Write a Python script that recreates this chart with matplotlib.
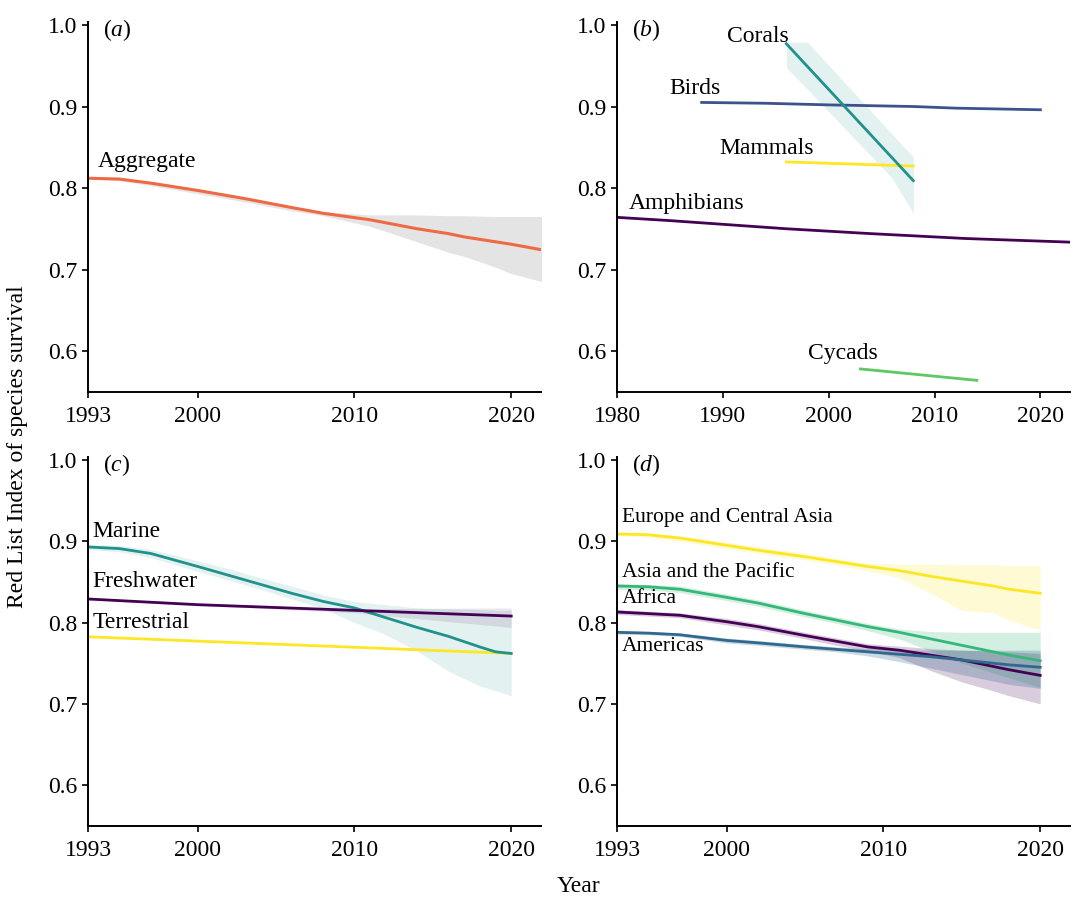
import matplotlib
matplotlib.use('Agg')
import matplotlib.pyplot as plt

plt.rcParams['font.family'] = ['Liberation Serif', 'DejaVu Serif']
plt.rcParams['mathtext.fontset'] = 'custom'
plt.rcParams['mathtext.rm'] = 'Liberation Serif'
plt.rcParams['mathtext.it'] = 'Liberation Serif:italic'

# (a) aggregate
aggYears = [1993, 1995, 1997, 2000, 2003, 2006, 2008, 2011, 2014, 2016, 2017, 2019, 2020, 2022]
aggregate = [.812, .811, .806, .797, .787, .776, .769, .761, .750, .744, .740, .734, .731, .724]
aggUpper = [.813, .812, .808, .799, .789, .778, .771, .767, .767, .766, .766, .765, .765, .765]
aggLower = [.811, .809, .803, .793, .783, .772, .766, .753, .734, .721, .716, .703, .695, .685]

# (b) taxonomic groups
coralYears = [1996, 2008]
corals = [.977, .809]
coralBandYears = [1996, 1998, 2006, 2008]
coralUpper = [.979, .979, .866, .838]
coralLower = [.948, .921, .812, .769]
birdYears = [1988, 1994, 2000, 2004, 2008, 2012, 2016, 2020]
birds = [.905, .904, .902, .901, .900, .898, .897, .896]
mammalYears = [1996, 2008]
mammals = [.832, .827]
amphibianYears = [1980, 1985, 1996, 2004, 2013, 2023]
amphibians = [.764, .760, .750, .744, .738, .7335]
cycadYears = [2003, 2014]
cycads = [.578, .564]

# (c) realms
marineYears = [1993, 1995, 1997, 2000, 2002, 2004, 2006, 2008, 2010, 2012, 2014, 2016, 2018, 2019, 2020]
marine = [.893, .891, .885, .869, .858, .847, .836, .826, .818, .806, .794, .783, .770, .764, .762]
marineUpper = [.896, .895, .890, .876, .866, .855, .845, .834, .826, .822, .818, .817, .816, .815, .815]
marineLower = [.890, .887, .880, .863, .852, .841, .829, .817, .800, .785, .765, .740, .722, .716, .710]
freshYears = [1993, 2000, 2010, 2020]
freshwater = [.829, .822, .815, .808]
freshUpper = [.830, .823, .817, .818]
freshLower = [.828, .821, .812, .794]
terrYears = [1993, 2020]
terrestrial = [.7825, .762]

# (d) regions
regionYears = [1993, 1995, 1997, 2000, 2002, 2005, 2007, 2009, 2011, 2013, 2015, 2017, 2018, 2020]
europe = [.909, .908, .904, .895, .889, .881, .875, .869, .864, .857, .851, .845, .841, .836]
europeUpper = [.911, .910, .907, .899, .893, .885, .879, .873, .872, .872, .871, .871, .870, .870]
europeLower = [.907, .905, .900, .891, .885, .877, .871, .864, .855, .836, .815, .812, .803, .791]
asia = [.845, .844, .841, .831, .824, .811, .803, .795, .788, .780, .772, .764, .760, .753]
asiaUpper = [.848, .847, .845, .835, .828, .815, .807, .799, .792, .789, .788, .788, .788, .788]
asiaLower = [.841, .840, .837, .827, .820, .807, .799, .790, .780, .765, .750, .738, .732, .720]
africa = [.813, .811, .809, .801, .795, .784, .777, .770, .766, .760, .754, .746, .742, .735]
africaUpper = [.816, .814, .812, .805, .799, .788, .781, .774, .771, .768, .766, .765, .764, .762]
africaLower = [.810, .808, .806, .797, .791, .780, .772, .765, .757, .741, .727, .716, .710, .700]
americas = [.788, .787, .785, .778, .775, .770, .767, .764, .761, .758, .754, .750, .748, .745]
americasUpper = [.790, .789, .787, .781, .778, .773, .770, .768, .767, .766, .766, .766, .766, .766]
americasLower = [.786, .785, .783, .775, .772, .767, .764, .759, .752, .744, .736, .728, .724, .719]

PURPLE = '#440154'
BLUE = '#3b528b'
STEEL = '#31688e'
TEAL = '#21918c'
GREEN = '#35b779'
LIGHTGREEN = '#5ec962'
YELLOW = '#fde725'
ORANGE = '#ee6a43'
FS = 17

fig = plt.figure(figsize=(10.75, 8.99), dpi=100)
W, H = 1075, 899


def makeAxes(left, top, right, bottom):
    return fig.add_axes([left / W, 1 - bottom / H, (right - left) / W, (bottom - top) / H])


axA = makeAxes(88, 22, 541, 392)
axB = makeAxes(617, 22, 1070, 392)
axC = makeAxes(88, 457, 541, 826)
axD = makeAxes(617, 457, 1070, 826)

for ax, letter in [(axA, 'a'), (axB, 'b'), (axC, 'c'), (axD, 'd')]:
    ax.spines['top'].set_visible(False)
    ax.spines['right'].set_visible(False)
    ax.spines['left'].set_linewidth(1.4)
    ax.spines['bottom'].set_linewidth(1.4)
    ax.set_ylim(0.5497, 1.0037)
    ax.set_yticks([0.6, 0.7, 0.8, 0.9, 1.0])
    ax.set_yticklabels(['0.6', '0.7', '0.8', '0.9', '1.0'])
    ax.tick_params(labelsize=FS, length=4, width=1.2)
    ax.tick_params(axis='x', pad=6)
    ax.text(0.033, 0.979, '($\\mathit{' + letter + '}$)', transform=ax.transAxes,
            fontsize=FS, va='center', ha='left')

# (a)
axA.fill_between(aggYears, aggLower, aggUpper, color='#e4e4e4', lw=0)
axA.plot(aggYears, aggregate, color=ORANGE, lw=2.2)
axA.set_xlim(1993, 2021.9)
axA.set_xticks([1993, 2000, 2010, 2020])
axA.text(1993.6, 0.833, 'Aggregate', fontsize=FS, va='center')

# (b)
axB.fill_between(coralBandYears, coralLower, coralUpper, color=TEAL, alpha=0.12, lw=0)
axB.plot(birdYears, birds, color=BLUE, lw=2)
axB.plot(mammalYears, mammals, color=YELLOW, lw=2)
axB.plot(coralYears, corals, color=TEAL, lw=2)
axB.plot(amphibianYears, amphibians, color=PURPLE, lw=2)
axB.plot(cycadYears, cycads, color=LIGHTGREEN, lw=2)
axB.set_xlim(1980, 2022.8)
axB.set_xticks([1980, 1990, 2000, 2010, 2020])
axB.text(1990.4, 0.9857, 'Corals', fontsize=FS, va='center')
axB.text(1984.9, 0.922, 'Birds', fontsize=FS, va='center')
axB.text(1989.7, 0.849, 'Mammals', fontsize=FS, va='center')
axB.text(1981.1, 0.781, 'Amphibians', fontsize=FS, va='center')
axB.text(1998.0, 0.597, 'Cycads', fontsize=FS, va='center')

# (c)
axC.fill_between(marineYears, marineLower, marineUpper, color=TEAL, alpha=0.12, lw=0)
axC.fill_between(freshYears, freshLower, freshUpper, color=PURPLE, alpha=0.1, lw=0)
axC.plot(terrYears, terrestrial, color=YELLOW, lw=2)
axC.plot(marineYears, marine, color=TEAL, lw=2)
axC.plot(freshYears, freshwater, color=PURPLE, lw=2)
axC.set_xlim(1993, 2021.9)
axC.set_xticks([1993, 2000, 2010, 2020])
axC.text(1993.3, 0.912, 'Marine', fontsize=FS, va='center')
axC.text(1993.3, 0.8507, 'Freshwater', fontsize=FS, va='center')
axC.text(1993.3, 0.7996, 'Terrestrial', fontsize=FS, va='center')

# (d) - region labels are set a bit smaller in the original
axD.fill_between(regionYears, europeLower, europeUpper, color=YELLOW, alpha=0.2, lw=0)
axD.fill_between(regionYears, asiaLower, asiaUpper, color=GREEN, alpha=0.22, lw=0)
axD.fill_between(regionYears, africaLower, africaUpper, color=PURPLE, alpha=0.2, lw=0)
axD.fill_between(regionYears, americasLower, americasUpper, color=STEEL, alpha=0.25, lw=0)
axD.plot(regionYears, europe, color=YELLOW, lw=2)
axD.plot(regionYears, asia, color=GREEN, lw=2)
axD.plot(regionYears, africa, color=PURPLE, lw=2)
axD.plot(regionYears, americas, color=STEEL, lw=2)
axD.set_xlim(1993, 2021.9)
axD.set_xticks([1993, 2000, 2010, 2020])
axD.text(1993.3, 0.929, 'Europe and Central Asia', fontsize=15.5, va='center')
axD.text(1993.3, 0.8616, 'Asia and the Pacific', fontsize=15.5, va='center')
axD.text(1993.3, 0.829, 'Africa', fontsize=15.5, va='center')
axD.text(1993.3, 0.7706, 'Americas', fontsize=15.5, va='center')

fig.text(18 / W, 1 - 447 / H, 'Red List Index of species survival', rotation=90,
         fontsize=FS, ha='center', va='center')
fig.text(578 / W, 1 - 887 / H, 'Year', fontsize=FS, ha='center', va='center')

fig.savefig('out.png', dpi=100)
